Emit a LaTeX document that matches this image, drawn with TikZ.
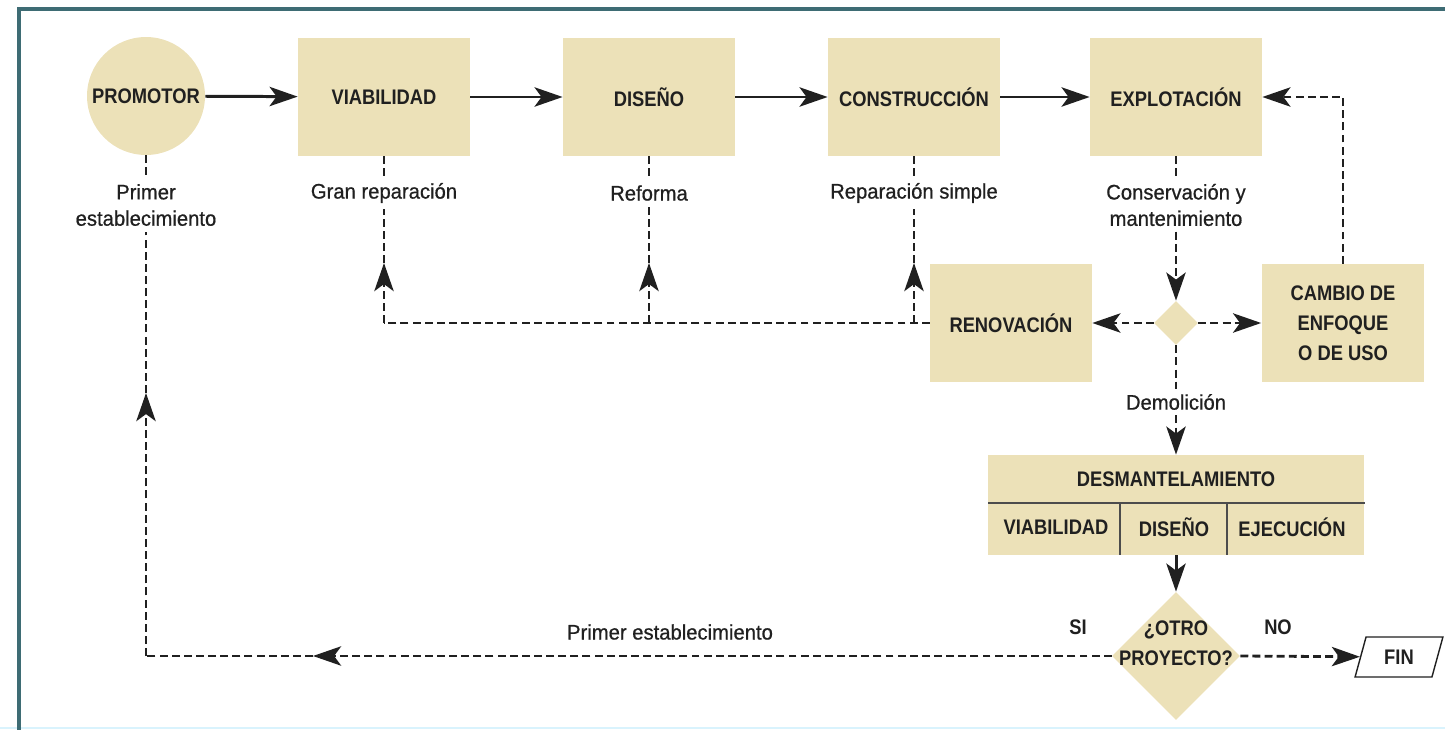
\documentclass[tikz,border=0pt]{standalone}
\usepackage{fontspec}
\setmainfont{Liberation Sans}
\newfontfamily\capsf{Liberation Sans}[FakeStretch=0.87]
\newfontfamily\lblf{Liberation Sans}[FakeBold=0.7, FakeStretch=0.96]
\usepackage{tikz}
\usetikzlibrary{arrows.meta,shapes,positioning}
\definecolor{beige}{RGB}{236,225,184}
\definecolor{ink}{RGB}{32,32,32}
\definecolor{frameteal}{RGB}{62,108,116}
\newcommand{\boxw}{3.44cm}
\newcommand{\boxh}{2.36cm}
\newcommand{\tipsize}{length=16pt,width=11pt,inset=4pt}

\begin{document}
\begin{tikzpicture}[x=0.02cm,y=-0.02cm]
        \begin{scope}
            %\draw[help lines] (0,0) grid[step=50] (1445,730);
            \tikzset{stage/.style = {rectangle, fill=beige, minimum width=\boxw, minimum height=\boxh,
                         inner sep=2pt, text=ink, align=center,
                         font=\capsf\bfseries\fontsize{12}{17}\selectfont}}
            \tikzset{capstxt/.style = {inner sep=1pt, text=ink, align=center,
                         font=\capsf\bfseries\fontsize{12}{17}\selectfont}}
            \tikzset{lbl/.style = {inner sep=3pt, text=ink, align=center,
                         font=\lblf\fontsize{12}{15}\selectfont}}
            \tikzset{solidarr/.style = {draw=ink, line width=1.7pt, -{Stealth[\tipsize]}}}
            \tikzset{dline/.style = {draw=ink, line width=1.6pt, dash pattern=on 4.5pt off 2.4pt}}
            \tikzset{darr/.style = {dline, -{Stealth[\tipsize]}}}
            \useasboundingbox (0,0) rectangle (1445,730);
            \draw[cyan!15, line width=1pt] (0,728) -- (1445,728);
            \draw[frameteal, line width=2pt] (19,730) -- (19,9) -- (1445,9);

            % top row
            \node[circle, fill=beige, minimum size=\boxh, inner sep=0pt, text=ink,
                  font=\capsf\bfseries\fontsize{12}{15}\selectfont] (prom) at (146,96) {PROMOTOR};
            \node[stage] (viab) at (384,97) {VIABILIDAD};
            \node[stage] (dis) at (649,97) {DISEÑO};
            \node[stage] (cons) at (914,97) {CONSTRUCCIÓN};
            \node[stage] (expl) at (1176,97) {EXPLOTACIÓN};

            \node[lbl] (prim) at (146,205) {Primer\\establecimiento};
            \node[lbl] (gran) at (384,193) {Gran reparación};
            \node[lbl] (ref) at (649,193) {Reforma};
            \node[lbl] (rsim) at (914,193) {Reparación simple};
            \node[lbl] (cman) at (1176,205) {Conservación y\\mantenimiento};

            % middle row
            \node[stage, minimum width=3.24cm] (reno) at (1011,323) {RENOVACIÓN};
            \node[diamond, fill=beige, minimum width=0.88cm, minimum height=0.88cm, inner sep=0pt] (dec) at (1176,323) {};
            \node[stage, minimum width=3.26cm] (camb) at (1343,323) {CAMBIO DE\\ENFOQUE\\O DE USO};
            \node[lbl] (demo) at (1176,402) {Demolición};

            % dismantling table
            \node[rectangle, fill=beige, minimum width=7.54cm, minimum height=2cm, inner sep=0pt] (desm) at (1176,505) {};
            \draw[ink!80, line width=1pt] (988,503) -- (1365,503);
            \draw[ink!80, line width=1pt] (1120,503) -- (1120,555);
            \draw[ink!80, line width=1pt] (1227,503) -- (1227,555);
            \node[capstxt] (desmt) at (1176,479) {DESMANTELAMIENTO};
            \node[capstxt] (tviab) at (1056,527) {VIABILIDAD};
            \node[capstxt] (tdis) at (1174,527) {DISEÑO};
            \node[capstxt] (tejec) at (1292,527) {EJECUCIÓN};

            % bottom row
            \node[diamond, fill=beige, minimum width=2.56cm, minimum height=2.56cm, inner sep=0pt] (otro) at (1176,656) {};
            \node[capstxt] (otrot) at (1176,643) {¿OTRO\\PROYECTO?};
            \node[capstxt] (si) at (1078,627) {SI};
            \node[capstxt] (no) at (1278,627) {NO};
            \node[lbl] (prim2) at (670,632) {Primer establecimiento};
            \node[trapezium, trapezium left angle=73, trapezium right angle=107, trapezium stretches=true,
                  draw=ink, line width=0.8pt, fill=white, minimum width=1.76cm, minimum height=0.8cm,
                  inner sep=0pt, capstxt] (fin) at (1399,657) {FIN};

            \draw[solidarr] (prom) -- (viab);
            \draw[solidarr] (viab) -- (dis);
            \draw[solidarr] (dis) -- (cons);
            \draw[solidarr] (cons) -- (expl);

            \draw[dline] (prom) -- (prim);
            \draw[dline] (viab) -- (gran);
            \draw[dline] (dis) -- (ref);
            \draw[dline] (cons) -- (rsim);
            \draw[dline] (expl) -- (cman);

            \coordinate (k1) at (gran |- reno.west);
            \coordinate (k2) at (ref |- reno.west);
            \coordinate (k3) at (rsim |- reno.west);
            \draw[dline] (reno.west) -- (k3) -- (k2) -- (k1);
            \draw[darr] (k1) -- ++(0,-60) coordinate (a1);
            \draw[darr] (k2) -- ++(0,-60) coordinate (a2);
            \draw[darr] (k3) -- ++(0,-60) coordinate (a3);
            \draw[dline] (a1) -- (gran);
            \draw[dline] (a2) -- (ref);
            \draw[dline] (a3) -- (rsim);

            \draw[darr] (cman) -- (dec);
            \draw[darr] (dec) -- (reno);
            \draw[darr] (dec) -- (camb);
            \draw[darr] (camb.north) |- (expl.east);
            \draw[dline] (dec) -- (demo);
            \draw[darr] (demo) -- (desm.north);

            \draw[solidarr] (desm) -- (otro);
            \coordinate (c1) at (prim |- otro.west);
            \coordinate (aL) at (313,656);
            \coordinate (aU) at (146,393);
            \draw[darr] (otro.west) -- (aL);
            \draw[dline] (aL) -- (c1);
            \draw[darr] (c1) -- (aU);
            \draw[dline] (aU) -- (prim);
            \draw[darr] (otro.east) -- (fin);
        \end{scope}
    \end{tikzpicture}
\end{document}
